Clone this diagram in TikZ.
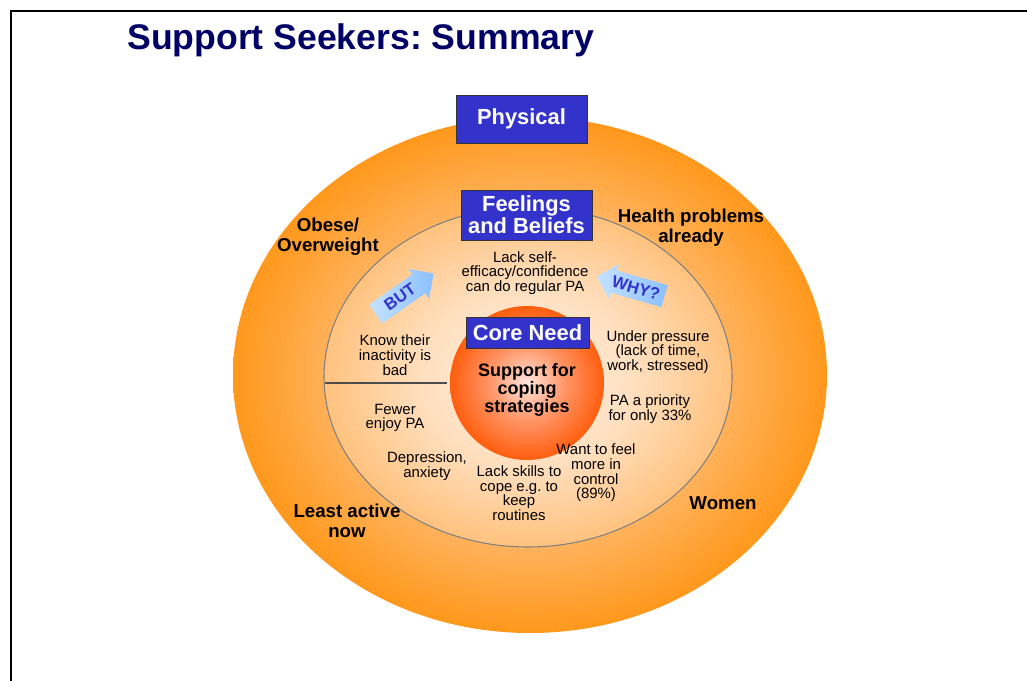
\documentclass[tikz,border=0pt]{standalone}
\usepackage{fontspec}
\setmainfont{Liberation Sans}
\usetikzlibrary{shapes.geometric,shapes.arrows}

\definecolor{titleblue}{HTML}{000066}
\definecolor{boxblue}{HTML}{3333CC}
\definecolor{ringA}{HTML}{FFCF98}
\definecolor{ringB}{HTML}{FFB35E}
\definecolor{ringC}{HTML}{FF981C}
\definecolor{midA}{HTML}{FFF3EA}
\definecolor{midB}{HTML}{FFDDBA}
\definecolor{midC}{HTML}{FFC27E}
\definecolor{coreA}{HTML}{FFE6DE}
\definecolor{coreB}{HTML}{FF9668}
\definecolor{coreC}{HTML}{FF5E0E}
\definecolor{arrowA}{HTML}{C4E2FF}
\definecolor{arrowB}{HTML}{8CC0FF}

% radial fills: a shape's rim sits at 25bp of the shading
\pgfdeclareradialshading{ringglow}{\pgfpoint{0bp}{0bp}}{color(0bp)=(ringA); color(16.5bp)=(ringB); color(25bp)=(ringC); color(50bp)=(ringC)}
\pgfdeclareradialshading{midglow}{\pgfpoint{0bp}{0bp}}{color(0bp)=(midA); color(14bp)=(midB); color(25bp)=(midC); color(50bp)=(midC)}
\pgfdeclareradialshading{coreglow}{\pgfpoint{0bp}{0bp}}{color(0bp)=(coreA); color(12bp)=(coreB); color(25bp)=(coreC); color(50bp)=(coreC)}

\tikzset{
  bluebox/.style={draw=black!80, line width=0.6pt, fill=boxblue, text=white,
    font=\bfseries\fontsize{16.4}{16.5}\selectfont, align=center, inner sep=0pt},
  outerlbl/.style={font=\bfseries\fontsize{14}{15}\selectfont, align=center},
  innerlbl/.style={font=\fontsize{11.2}{11}\selectfont, align=center},
  blockarrow/.style={single arrow, left color=arrowA, right color=arrowB, draw=none,
    minimum height=53pt, single arrow head extend=5pt, inner xsep=2pt, inner ysep=4pt,
    text=boxblue, font=\bfseries\fontsize{12.5}{12.5}\selectfont}
}

\begin{document}
\frenchspacing
\begin{tikzpicture}[x=0.75pt,y=-0.75pt]
\useasboundingbox (0,0) rectangle (1027,681);
\fill[white] (0,0) rectangle (1027,681);

% slide frame
\coordinate (frameBL) at (11,682);
\coordinate (frameTL) at (11,11);
\coordinate (frameTR) at (1028,11);
\draw[line width=1.4pt] (frameBL) -- (frameTL) -- (frameTR);

% title
\node[anchor=base west, text=titleblue, font=\bfseries\fontsize{26.7}{30}\selectfont, inner sep=0pt]
  (title) at (127,50) {Support Seekers: Summary};

% three nested zones
\node[ellipse, shading=ringglow, minimum width=445.5pt, minimum height=387pt, inner sep=0pt] (outer) at (530,375) {};
\node[ellipse, shading=midglow, draw=black!50, line width=0.8pt, minimum width=306pt, minimum height=255pt, inner sep=0pt] (inner) at (528,377) {};
\node[circle, shading=coreglow, minimum size=115.5pt, inner sep=0pt] (core) at (527,383) {};

% zone headings
\node[bluebox, minimum width=98.25pt, minimum height=36pt] (physical) at (521.5,119) {Physical};
\node[bluebox, minimum width=98.25pt, minimum height=37.5pt] (feelings) at (526.5,215) {Feelings\\and Beliefs};
\node[bluebox, minimum width=92.25pt, minimum height=23.25pt] (coreneed) at (527.5,332.5) {Core Need};

% outer ring labels
\node[outerlbl] (obese) at (328,237) {Obese/\\Overweight};
\node[outerlbl] (health) at (691,228) {Health problems\\already};
\node[outerlbl] (least) at (347,521) {Least active\\now};
\node[outerlbl] (women) at (723,503) {Women};

% middle ring statements
\node[innerlbl] (selfeff) at (525,273) {Lack self-\\efficacy/confidence\\can do regular PA};
\node[innerlbl] (know) at (395,355) {Know their\\inactivity is\\bad};
\node[innerlbl] (fewer) at (395,418) {Fewer\\enjoy PA};
\node[innerlbl] (depress) at (427,466) {Depression,\\anxiety};
\node[innerlbl] (skills) at (519,493) {Lack skills to\\cope e.g. to\\keep\\routines};
\node[innerlbl] (control) at (596,473) {Want to feel\\more in\\control\\(89\%)};
\node[innerlbl] (priority) at (650,409) {PA a priority\\for only 33\%};
\node[innerlbl] (pressure) at (658,352) {Under pressure\\(lack of time,\\work, stressed)};

% divider on the left side
\coordinate (sepL) at (325,383);
\coordinate (sepR) at (447,383);
\draw[black!70, line width=0.8pt] (sepL) -- (sepR);

% core statement
\node[font=\bfseries\fontsize{13.5}{12.4}\selectfont, align=center] (support) at (527,390) {Support for\\coping\\strategies};

% block arrows
\node[blockarrow, rotate=35] (but) at (400,297) {BUT};
\node[blockarrow, shape border rotate=180, rotate=-16] (why) at (636,288) {WHY?};
\end{tikzpicture}
\end{document}
